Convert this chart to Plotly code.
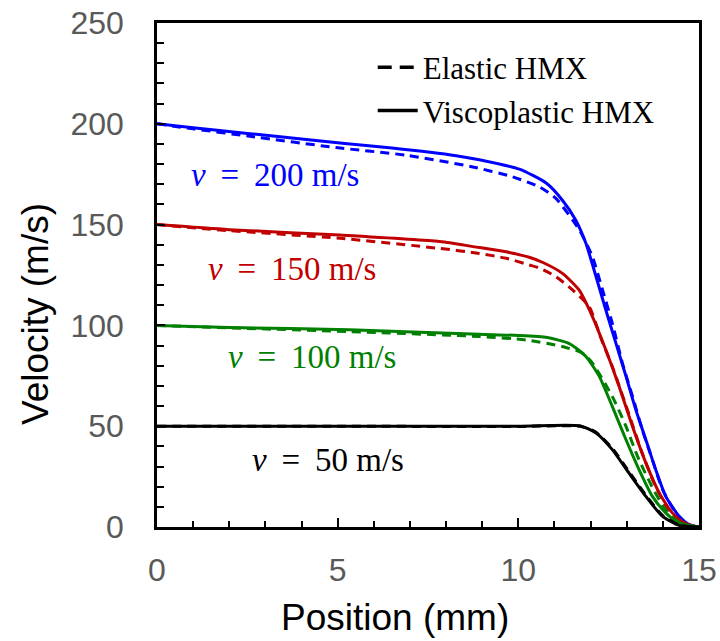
import plotly.graph_objects as go

# Velocity profiles along the sample for four impact speeds
# Elastic HMX (dashed) and viscoplastic HMX (solid)

x200_visco = [0, 1, 2.57, 4, 5.2, 6.5, 8.28, 8.92, 10.03, 10.77, 11.22, 11.59, 11.87, 12.15,
              12.42, 12.70, 12.98, 13.25, 13.53, 13.80, 14.08, 14.45, 14.7, 15]
y200_visco = [200, 198, 195.1, 192.5, 190.2, 188, 184.2, 182.2, 177.5, 170.6, 162.1, 152.2, 140.7, 124.2,
              107.7, 91.2, 74.7, 58.2, 43.3, 28.5, 15.2, 5.3, 1.5, 0]
x200_elastic = [0, 1, 2.57, 4.96, 6.9, 8.74, 9.84, 10.58, 11.04, 11.69, 12.05, 12.33, 12.6, 12.88,
                13.16, 13.43, 13.71, 13.99, 14.36, 14.6, 14.82, 15]
y200_elastic = [200, 197.5, 193.8, 188.2, 184.4, 178.6, 173.7, 168.7, 163.0, 147.3, 134.1, 117.6, 101.1, 81.3,
                64.8, 48.3, 33.4, 18.6, 7.0, 2.5, 0.4, 0]

x150_visco = [0, 2, 5.06, 7.82, 8.92, 9.66, 10.3, 10.68, 11.22, 11.68, 12.05, 12.42, 12.79, 13.16,
              13.53, 13.90, 14.26, 14.55, 14.8, 15]
y150_visco = [150, 147.5, 144.8, 141.6, 138.6, 136.5, 133.8, 131.2, 125.8, 117.6, 104.4, 87.9, 69.7, 49.9,
              31.8, 16.9, 7.0, 2.5, 0.7, 0]
x150_elastic = [0, 2, 5.06, 7.82, 8.92, 9.66, 10.3, 10.58, 11.04, 11.5, 11.96, 12.3, 12.6, 13.06,
                13.4, 13.75, 14.1, 14.4, 14.75, 15]
y150_elastic = [150, 147, 143.2, 138.2, 135.7, 133.3, 130.0, 128.5, 124.2, 117.6, 109.3, 93, 79.6, 56,
                38, 22, 10, 3.5, 0.6, 0]

x100_visco = [0, 2, 5.33, 8.92, 10.0, 10.8, 11.41, 11.87, 12.24, 12.6, 12.98, 13.34, 13.71, 14.08,
              14.35, 14.63, 15]
y100_visco = [100, 99, 97.8, 95.6, 95.0, 94.0, 91.0, 84.6, 74.7, 59.8, 43.3, 28.5, 15.2, 7.0,
              3, 1.2, 0]
x100_elastic = [0, 2, 5.33, 8.92, 10.21, 11.22, 11.78, 12.05, 12.6, 12.98, 13.3, 13.7, 14.05, 14.35,
                14.65, 15]
y100_elastic = [100, 98.8, 96.9, 94.5, 92.8, 89.5, 86.2, 81.3, 64.8, 49.9, 35, 20, 9, 3.5,
                1, 0]

x50_visco = [0, 5, 10, 11.7, 12.15, 12.6, 13.06, 13.53, 13.99, 14.45, 14.75, 15]
y50_visco = [50, 50, 50, 50.2, 46.6, 38.4, 26.8, 15.2, 5.3, 0.8, 0.2, 0]
x50_elastic = [0, 5, 10, 11.7, 12.15, 12.6, 13.06, 13.53, 13.99, 14.45, 14.75, 15]
y50_elastic = [50, 50, 49.8, 50, 47, 39, 27.5, 15.8, 5.8, 1, 0.2, 0]

series = [
    ("200", "#0000FF", x200_elastic, y200_elastic, x200_visco, y200_visco),
    ("150", "#C00000", x150_elastic, y150_elastic, x150_visco, y150_visco),
    ("100", "#008000", x100_elastic, y100_elastic, x100_visco, y100_visco),
    ("50", "#000000", x50_elastic, y50_elastic, x50_visco, y50_visco),
]

# label anchor positions (data coordinates) for the speed labels
label_x = [3.27, 3.74, 4.29, 4.73]
label_y = [174.5, 128.0, 84.5, 33.4]

SERIF = "Liberation Serif, Times New Roman, serif"
SANS = "Liberation Sans, Arial, sans-serif"

fig = go.Figure()

for name, color, xe, ye, xv, yv in series:
    fig.add_trace(go.Scatter(x=xe, y=ye, mode="lines", showlegend=False,
                             line=dict(color=color, width=3, dash="9px,6px",
                                       shape="spline", smoothing=0.6)))
    fig.add_trace(go.Scatter(x=xv, y=yv, mode="lines", showlegend=False,
                             line=dict(color=color, width=3, shape="spline", smoothing=0.6)))

# legend entries
fig.add_trace(go.Scatter(x=[None], y=[None], mode="lines", name="Elastic HMX",
                         line=dict(color="black", width=3.5, dash="14px,8px")))
fig.add_trace(go.Scatter(x=[None], y=[None], mode="lines", name="Viscoplastic HMX",
                         line=dict(color="black", width=3.5)))

for (name, color, *_), lx, ly in zip(series, label_x, label_y):
    fig.add_annotation(x=lx, y=ly, text=f"<i>v</i> \u2009=\u2009 {name} m/s", showarrow=False,
                       font=dict(family=SERIF, size=33, color=color),
                       xanchor="center", yanchor="middle")

# axis titles
fig.add_annotation(xref="paper", yref="paper", x=(395 - 157) / 542, y=-(617 - 527) / 504,
                   text="Position (mm)", showarrow=False,
                   font=dict(family=SANS, size=37, color="black"),
                   xanchor="center", yanchor="middle")
fig.add_annotation(xref="paper", yref="paper", x=-(157 - 35) / 542, y=(527 - 314) / 504,
                   text="Velocity (m/s)", showarrow=False, textangle=-90,
                   font=dict(family=SANS, size=37, color="black"),
                   xanchor="center", yanchor="middle")

fig.update_xaxes(
    range=[0, 15], dtick=5, tick0=0, automargin=False,
    ticks="inside", ticklen=9, tickwidth=2, tickcolor="black",
    minor=dict(dtick=1, ticks="inside", ticklen=6, tickwidth=2, tickcolor="black"),
    showline=True, linecolor="black", linewidth=2.5, mirror=True,
    showgrid=False, zeroline=False,
    tickfont=dict(family=SANS, size=32, color="#595959"),
    ticklabelstandoff=13,
)
fig.update_yaxes(
    range=[0, 250], dtick=50, tick0=0, automargin=False,
    ticks="inside", ticklen=8, tickwidth=2, tickcolor="black",
    minor=dict(dtick=10, ticks="inside", ticklen=7, tickwidth=2, tickcolor="black"),
    showline=True, linecolor="black", linewidth=2.5, mirror=True,
    showgrid=False, zeroline=False,
    tickfont=dict(family=SANS, size=32, color="#595959"),
    ticklabelstandoff=24,
)

fig.update_layout(
    width=720, height=641,
    margin=dict(l=157, r=21, t=23, b=114),
    plot_bgcolor="white", paper_bgcolor="white",
    legend=dict(x=0.398, y=0.965, xanchor="left", yanchor="top",
                font=dict(family=SERIF, size=31, color="black"),
                bgcolor="rgba(0,0,0,0)", itemwidth=40, tracegroupgap=0),
)

fig.write_html("out.html")
